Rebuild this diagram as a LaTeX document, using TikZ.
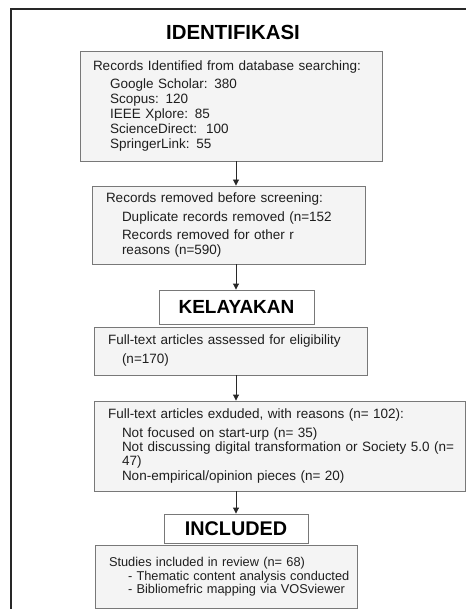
\documentclass[tikz,border=0pt]{standalone}
\usepackage{fontspec}
\setmainfont{Liberation Sans}
\usetikzlibrary{arrows.meta, positioning}
\definecolor{boxline}{RGB}{120,120,120}
\definecolor{boxfill}{RGB}{244,244,244}
\definecolor{inktext}{RGB}{30,30,30}
\definecolor{frameline}{RGB}{40,40,40}

\begin{document}
\begin{tikzpicture}[
  x=1pt, y=-1pt,
  box/.style={
    rectangle, draw=boxline, fill=boxfill, line width=0.9pt,
    inner xsep=14pt, inner ysep=0pt, align=left, text=inktext,
    font=\fontsize{13.5}{15}\selectfont
  },
  phase/.style={
    rectangle, draw=boxline, fill=white, line width=0.9pt,
    inner sep=0pt, text=black, font=\fontsize{19.5}{22}\selectfont\bfseries
  },
  heading/.style={text=black, font=\fontsize{20.4}{22}\selectfont\bfseries},
  arrow/.style={-{Triangle[width=6pt,length=6pt]}, line width=0.9pt, draw=frameline}
]
\useasboundingbox (0,0) rectangle (466,609);

% ---- outer frame (cut at right and bottom) ----
\coordinate (frameBL) at (11,609);
\coordinate (frameTR) at (466,9);
\draw[line width=1.3pt, frameline] (frameBL) |- (frameTR);

% ---- identification ----
\node[heading] (ident) at (233,32) {IDENTIFIKASI};

\node[box, minimum width=302pt, minimum height=110pt, text width=276pt, inner xsep=13pt] (found) at (231,106)
  {Records Identified from database searching:\\[3pt]
   \hspace*{17pt}Google Scholar: 380\\
   \hspace*{17pt}Scopus: 120\\
   \hspace*{17pt}IEEE Xplore: 85\\
   \hspace*{17pt}ScienceDirect:\ \ 100\\
   \hspace*{17pt}SpringerLink: 55};

\node[box, minimum width=273pt, minimum height=78pt, text width=245pt] (removed) at (228.5,225)
  {Records removed before screening:\\[4pt]
   \hspace*{16pt}Duplicate records removed (n=152\\[3pt]
   \hspace*{16pt}Records removed for other r\\
   \hspace*{16pt}reasons (n=590)};

% ---- eligibility ----
\node[phase, minimum width=155pt, minimum height=34pt, font=\fontsize{19}{20}\selectfont\bfseries] (elig) at (236.5,307) {KELAYAKAN};

\node[box, minimum width=273pt, minimum height=48pt, text width=245pt] (assessed) at (230.5,351)
  {Full-text articles assessed for eligibility\\[4pt]
   \hspace*{14pt}(n=170)};

\node[box, minimum width=371pt, minimum height=90pt, text width=343pt,
      font=\fontsize{13.5}{14}\selectfont] (excluded) at (279.5,446)
  {Full-text articles exduded, with reasons (n= 102):\\[5pt]
   \hspace*{14pt}Not focused on start-urp (n= 35)\\
   \hspace*{14pt}\mbox{Not discussing digital transformation or Society 5.0 (n=}\\
   \hspace*{14pt}47)\\[1pt]
   \hspace*{14pt}Non-empirical/opinion pieces (n= 20)};

% ---- included ----
\node[phase, minimum width=144pt, minimum height=29pt, font=\fontsize{19.8}{22}\selectfont\bfseries] (incl) at (236,528.5) {INCLUDED};

\node[box, minimum width=262pt, minimum height=63pt, text width=234pt,
      font=\fontsize{12.8}{13}\selectfont] (studies) at (226,576.5)
  {Studies included in review (n= 68)\\[1pt]
   \hspace*{19pt}\mbox{- Thematic content analysis conducted}\\
   \hspace*{19pt}\mbox{- Bibliomefric mapping via VOSviewer}};

% ---- flow arrows ----
\coordinate (spine) at (236,0);
\draw[arrow] (found.south -| spine) -- (removed.north -| spine);
\draw[arrow] (removed.south -| spine) -- (elig.north -| spine);
\draw[arrow] (assessed.south -| spine) -- (excluded.north -| spine);
\draw[arrow] (excluded.south -| spine) -- (incl.north -| spine);

\end{tikzpicture}
\end{document}
